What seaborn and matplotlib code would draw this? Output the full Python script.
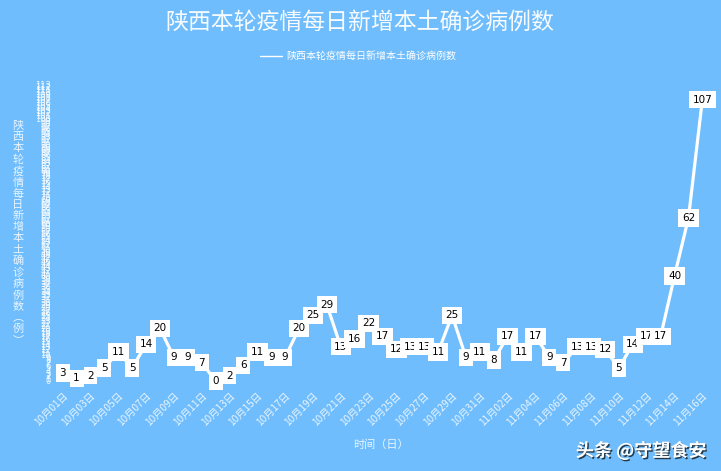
import matplotlib
matplotlib.use("Agg")
import matplotlib.pyplot as plt
import matplotlib.patheffects as pe
import pandas as pd
import seaborn as sns

# daily new local cases, 10/01 .. 11/16
oct_cases = [3, 1, 2, 5, 11, 5, 14, 20, 9, 9, 7, 0, 2, 6, 11, 9, 9, 20, 25, 29,
             13, 16, 22, 17, 12, 13, 13, 11, 25, 9, 11]
nov_cases = [8, 17, 11, 17, 9, 7, 13, 13, 12, 5, 14, 17, 17, 40, 62, 107]

dates = [f"10月{d:02d}日" for d in range(1, 32)] + [f"11月{d:02d}日" for d in range(1, 17)]
cases = oct_cases + nov_cases

title = "陕西本轮疫情每日新增本土确诊病例数"
y_label = "陕西本轮疫情每日新增本土确诊病例数︵例︶"
x_label = "时间（日）"
y_max = 113

BG = "#6FBDFD"

sns.set_theme(style="white")
plt.rcParams["font.family"] = ["Noto Sans CJK SC", "DejaVu Sans"]

df = pd.DataFrame({"idx": range(len(cases)), "date": dates, "cases": cases})

fig = plt.figure(figsize=(7.21, 4.71), dpi=100, facecolor=BG)
ax = fig.add_axes([55 / 721, 90 / 471, 655 / 721, 297 / 471])
ax.set_facecolor(BG)

sns.lineplot(data=df, x="idx", y="cases", color="white", linewidth=2.3,
             label=title, ax=ax, legend=False)

for x, v in zip(df["idx"], df["cases"]):
    ax.text(x, v, str(v), ha="center", va="center", fontsize=7.5,
            color="black", family="DejaVu Sans", zorder=5,
            bbox=dict(boxstyle="square,pad=0.35", fc="white", ec="none"))

ax.set_xlim(-0.55, len(cases) - 0.45)
ax.set_ylim(0, y_max)
for s in ax.spines.values():
    s.set_visible(False)
ax.grid(False)

ax.set_yticks(range(0, y_max + 1))
ax.set_yticklabels([str(i) for i in range(0, y_max + 1)], fontsize=6,
                   color="white", alpha=0.85, family="DejaVu Sans")
ax.set_xticks(df["idx"][::2])
ax.set_xticklabels(df["date"][::2], rotation=45, ha="right",
                   rotation_mode="anchor", fontsize=7.3, color="white", alpha=0.85)
ax.tick_params(axis="y", length=0, pad=3)
ax.tick_params(axis="x", length=0, pad=7)
ax.set_xlabel("")
ax.set_ylabel("")

fig.text(360 / 721, 1 - 22 / 471, title, ha="center", va="center",
         fontsize=16.5, color="white", alpha=0.95)

fig.text(18 / 721, 1 - 233 / 471, "\n".join(y_label), ha="center", va="center",
         fontsize=8, color="white", alpha=0.85, linespacing=1.13)

fig.text(381 / 721, 1 - 445 / 471, x_label, ha="center", va="center",
         fontsize=8, color="white", alpha=0.85)

leg = ax.legend(loc="center", bbox_to_anchor=(358 / 721, 1 - 56 / 471),
                bbox_transform=fig.transFigure, frameon=False, fontsize=7.2,
                labelcolor="white", handlelength=2.2, handletextpad=0.5)
for h in leg.get_lines():
    h.set_linewidth(1.0)

fig.text(641 / 721, 1 - 451 / 471, "头条 @守望食安", ha="center", va="center",
         fontsize=13, color="white", weight="bold",
         path_effects=[pe.withSimplePatchShadow(offset=(1, -1), shadow_rgbFace="black", alpha=0.7)])

fig.savefig("out.png", dpi=100, facecolor=BG)
